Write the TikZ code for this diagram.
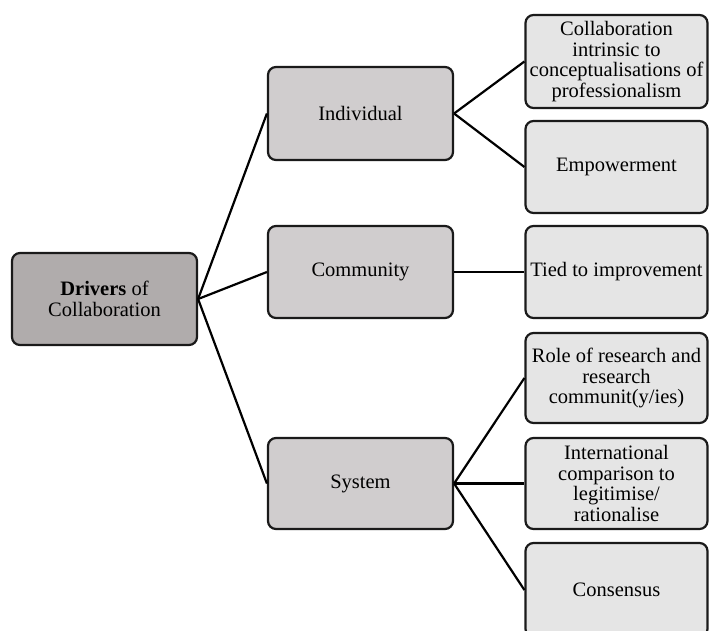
\documentclass[tikz,border=0pt]{standalone}
\usepackage{fontspec}
\setmainfont{Liberation Serif}
\definecolor{rootfill}{HTML}{B0ACAC}
\definecolor{midfill}{HTML}{D0CDCE}
\definecolor{leaffill}{HTML}{E5E5E5}
\definecolor{edgeline}{HTML}{1A1A1A}
\begin{document}
\begin{tikzpicture}[x=1pt, y=-1pt,
  box/.style={draw=edgeline, line width=2.2pt, rounded corners=8pt,
    align=center, inner sep=0pt,
    font=\fontsize{20.5}{20.5}\selectfont},
  rootbox/.style={box, fill=rootfill, minimum width=185pt, minimum height=92pt},
  midbox/.style={box, fill=midfill, minimum width=185pt, minimum height=92pt},
  leafbox/.style={box, fill=leaffill, minimum width=182pt, minimum height=92pt},
  link/.style={draw=black, line width=2.2pt}]
\useasboundingbox (0,0) rectangle (709,630);
\clip (0,0) rectangle (709,630);

% root
\node[rootbox] (root) at (104.5,299) {\textbf{Drivers} of\\Collaboration};

% second level
\node[midbox, minimum height=93pt] (ind) at (360.5,113.5) {Individual};
\node[midbox] (com) at (360.5,272) {Community};
\node[midbox, minimum height=91pt] (sys) at (360.5,483.5) {System};

% leaves
\node[leafbox, minimum height=93pt] (l1) at (616.5,61.5)
  {Collaboration\\intrinsic to\\conceptualisations of\\professionalism};
\node[leafbox] (l2) at (616.5,167) {Empowerment};
\node[leafbox] (l3) at (616.5,272) {Tied to improvement};
\node[leafbox, minimum height=90pt] (l4) at (616.5,378)
  {Role of research and\\research\\communit(y/ies)};
\node[leafbox, minimum height=91pt] (l5) at (616.5,483.5)
  {International\\comparison to\\legitimise/\\rationalise};
\node[leafbox, minimum height=94pt] (l6) at (616.5,590) {Consensus};

% connectors
\draw[link] (root.east) -- (ind.west);
\draw[link] (root.east) -- (com.west);
\draw[link] (root.east) -- (sys.west);
\draw[link] (ind.east) -- (l1.west);
\draw[link] (ind.east) -- (l2.west);
\draw[link] (com.east) -- (l3.west);
\draw[link] (sys.east) -- (l4.west);
\draw[link] (sys.east) -- (l5.west);
\draw[link] (sys.east) -- (l6.west);
\end{tikzpicture}
\end{document}
